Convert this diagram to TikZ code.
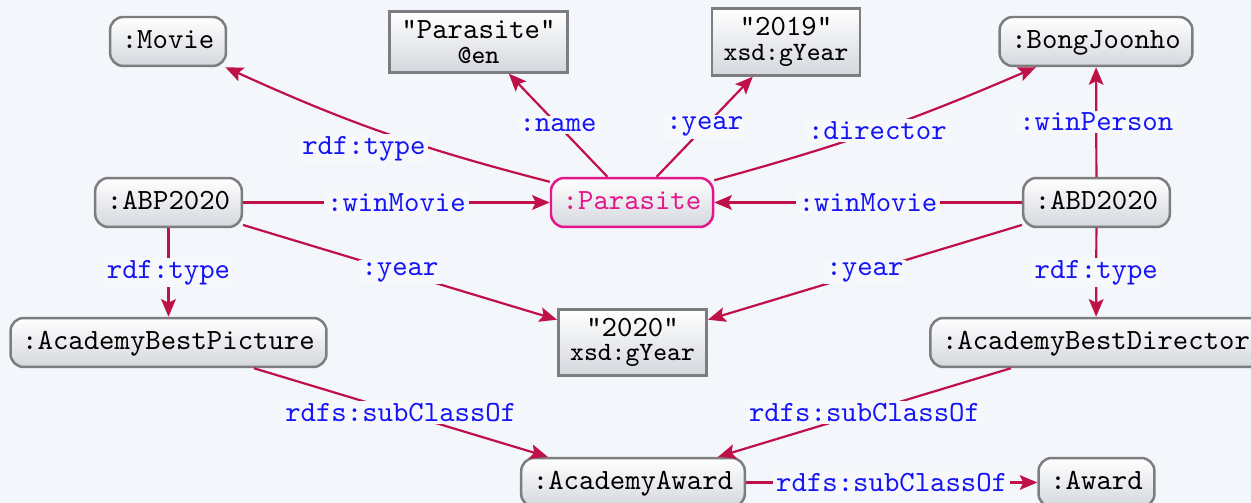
\documentclass[tikz,border=0pt]{standalone}
\usepackage{xcolor}
\usepackage{tikz}
\usetikzlibrary{arrows.meta}
\definecolor{rdfbg}{RGB}{243,246,251}
\definecolor{rdfedge}{RGB}{192,16,72}
\definecolor{rdfblue}{RGB}{20,20,245}
\definecolor{rdfpink}{RGB}{228,22,140}
\definecolor{rdfborder}{RGB}{125,125,128}
\definecolor{rdfshade}{RGB}{212,215,221}

\tikzset{
  res/.style={draw=rdfborder, line width=0.85pt, rounded corners=4.5pt, top color=white, bottom color=rdfshade, font=\ttfamily, inner xsep=4pt, inner ysep=0pt, minimum height=16.7pt, text height=6.6pt, text depth=1.9pt},
  lit/.style={draw=rdfborder, line width=0.95pt, top color=white, bottom color=rdfshade, font=\ttfamily, align=center, inner xsep=4pt, inner ysep=3pt},
  prop/.style={font=\ttfamily, text=rdfblue, fill=rdfbg!75!white, inner xsep=1pt, inner ysep=0.8pt},
  arc/.style={draw=rdfedge, line width=0.75pt, -{Stealth[length=6pt,width=5pt,inset=1.2pt]}},
}

\begin{document}
\begin{tikzpicture}[x=0.341pt,y=-0.341pt]
\fill[rdfbg] (0,0) rectangle (1251,503);
\useasboundingbox (0,0) rectangle (1251,503);
\clip (0,0) rectangle (1251,503);

\node[res] (movie) at (168,41.5) {:Movie};
\node[lit] (parlit) at (478.5,42) {"Parasite"\\[-3.6pt]{\small @en}};
\node[lit] (lit2019) at (786,42) {"2019"\\[-3.6pt]{\small xsd:gYear}};
\node[res] (bong) at (1096,41.5) {:BongJoonho};
\node[res] (abp) at (168.5,202.5) {:ABP2020};
\node[res, draw=rdfpink, text=rdfpink] (parasite) at (632,202.5) {:Parasite};
\node[res] (abd) at (1096.5,202.5) {:ABD2020};
\node[res] (bestpic) at (168.5,342.5) {:AcademyBestPicture};
\node[lit] (lit2020) at (632.5,342.5) {"2020"\\[-3.6pt]{\small xsd:gYear}};
\node[res] (bestdir) at (1096,342.5) {:AcademyBestDirector};
\node[res] (academy) at (633,482.5) {:AcademyAward};
\node[res] (award) at (1096.5,482.5) {:Award};

\draw[arc] (abp) -- node[prop]{:winMovie} (parasite);
\draw[arc] (abd) -- node[prop]{:winMovie} (parasite);
\draw[arc] (parasite) to[bend left=5] node[prop, pos=0.57, yshift=-8pt]{rdf:type} (movie);
\draw[arc] (parasite) -- node[prop]{:name} (parlit);
\draw[arc] (parasite) -- node[prop]{:year} (lit2019);
\draw[arc] (parasite) to[bend right=4] node[prop]{:director} (bong);
\draw[arc] (abd) -- node[prop]{:winPerson} (bong);
\draw[arc] (abp) -- node[prop]{rdf:type} (bestpic);
\draw[arc] (abd) -- node[prop]{rdf:type} (bestdir);
\draw[arc] (abp) -- node[prop]{:year} (lit2020);
\draw[arc] (abd) -- node[prop]{:year} (lit2020);
\draw[arc] (bestpic) -- node[prop]{rdfs:subClassOf} (academy);
\draw[arc] (bestdir) -- node[prop]{rdfs:subClassOf} (academy);
\draw[arc] (academy) -- node[prop]{rdfs:subClassOf} (award);
\end{tikzpicture}
\end{document}
